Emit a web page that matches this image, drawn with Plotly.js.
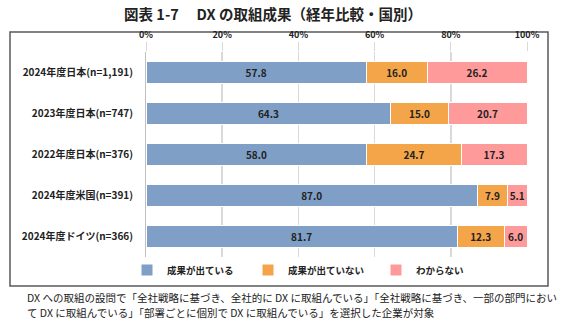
<!DOCTYPE html>
<html><head><meta charset="utf-8">
<script src="https://cdn.plot.ly/plotly-3.0.1.min.js"></script>
<style>html,body{margin:0;padding:0;background:#fff}#chart{width:567px;height:327px}</style>
</head><body><div id="chart"></div>
<script>
var categories = ["2024年度日本(n=1,191)", "2023年度日本(n=747)", "2022年度日本(n=376)", "2024年度米国(n=391)", "2024年度ドイツ(n=366)"];
var seriesNames = ["成果が出ている", "成果が出ていない", "わからない"];
var achieved = [57.8, 64.3, 58.0, 87.0, 81.7];
var notAchieved = [16.0, 15.0, 24.7, 7.9, 12.3];
var unknown = [26.2, 20.7, 17.3, 5.1, 6.0];
var tickVals = [0, 20, 40, 60, 80, 100];
var tickLabels = ["0%", "20%", "40%", "60%", "80%", "100%"];
var colors = ["#7F9FC6", "#F4A54A", "#FF9A9A"];
var seriesValues = [achieved, notAchieved, unknown];
var legendIds = ["legend", "legend2", "legend3"];

var F = "Noto Sans CJK JP, sans-serif";
var traces = seriesValues.map(function (vals, i) {
  return {
    type: "bar", orientation: "h", name: seriesNames[i], legend: legendIds[i],
    x: vals, y: categories,
    marker: {color: colors[i], line: {color: "#ffffff", width: 1}},
    text: vals.map(function (v) { return "<b>" + v.toFixed(1) + "</b>"; }),
    textposition: "inside", insidetextanchor: "middle", textangle: 0,
    textfont: {family: F, size: 10, color: "#222222"},
    constraintext: "none", cliponaxis: false, hoverinfo: "skip"
  };
});

var L = 146, R = 40, T = 52, B = 70, W = 567, H = 327;
var pw = W - L - R, ph = H - T - B;
function px(x) { return (x - L) / pw; }
function py(y) { return (H - B - y) / ph; }

function legendAt(xpix) {
  return {
    orientation: "h", x: px(xpix), xanchor: "left", y: py(270), yanchor: "middle",
    font: {family: F, size: 9.5, color: "#222222", weight: "bold"},
    itemwidth: 30, bgcolor: "rgba(0,0,0,0)"
  };
}

var layout = {
  width: W, height: H,
  margin: {l: L, r: R, t: T, b: B},
  paper_bgcolor: "#ffffff", plot_bgcolor: "#ffffff",
  barmode: "stack", bargap: 0.46,
  font: {family: F, color: "#222222"},
  showlegend: true,
  title: {text: "<b>図表 1-7　 DX の取組成果（経年比較・国別）</b>", x: 273 / W, xanchor: "center", y: 1 - 15 / H, yanchor: "middle", font: {family: F, size: 14.5, color: "#222222"}},
  xaxis: {
    side: "top", range: [0, 100], tickvals: tickVals, ticktext: tickLabels,
    ticks: "outside", ticklen: 9, tickcolor: "#d9d9d9", tickwidth: 1,
    showgrid: true, gridcolor: "#d9d9d9", gridwidth: 1.5,
    zeroline: false, showline: false, fixedrange: true,
    tickfont: {family: F, size: 9, color: "#222222", weight: "bold"}
  },
  yaxis: {
    type: "category", categoryorder: "array", categoryarray: categories.slice().reverse(),
    showgrid: false, zeroline: false, showline: true, linecolor: "#bfbfbf", linewidth: 1,
    ticks: "", ticklabelstandoff: 10,
    tickfont: {family: F, size: 10, color: "#222222", weight: "bold"}
  },
  legend: legendAt(127),
  legend2: legendAt(248),
  legend3: legendAt(376),
  shapes: [{
    type: "rect", xref: "paper", yref: "paper",
    x0: px(10), x1: px(548), y0: py(286), y1: py(32),
    line: {color: "#595959", width: 1.5}, fillcolor: "rgba(0,0,0,0)", layer: "below"
  }],
  annotations: [
    {xref: "paper", yref: "paper", x: px(25), y: py(297), xanchor: "left", yanchor: "middle", showarrow: false, align: "left",
     text: "DX への取組の設問で「全社戦略に基づき、全社的に DX に取組んでいる」「全社戦略に基づき、一部の部門におい", font: {family: F, size: 10.5, color: "#222222"}},
    {xref: "paper", yref: "paper", x: px(25), y: py(312), xanchor: "left", yanchor: "middle", showarrow: false, align: "left",
     text: "て DX に取組んでいる」「部署ごとに個別で DX に取組んでいる」を選択した企業が対象", font: {family: F, size: 10.5, color: "#222222"}}
  ]
};
Plotly.newPlot("chart", traces, layout, {displayModeBar: false, staticPlot: true});
</script></body></html>
